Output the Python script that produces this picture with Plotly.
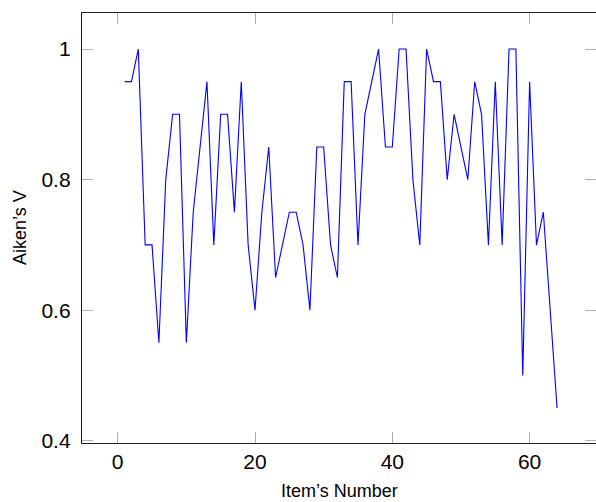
import plotly.graph_objects as go

items = list(range(1, 65))
aiken_v = [0.95, 0.95, 1.0, 0.7, 0.7, 0.55, 0.8, 0.9, 0.9, 0.55,
           0.75, 0.85, 0.95, 0.7, 0.9, 0.9, 0.75, 0.95, 0.7, 0.6,
           0.75, 0.85, 0.65, 0.7, 0.75, 0.75, 0.7, 0.6, 0.85, 0.85,
           0.7, 0.65, 0.95, 0.95, 0.7, 0.9, 0.95, 1.0, 0.85, 0.85,
           1.0, 1.0, 0.8, 0.7, 1.0, 0.95, 0.95, 0.8, 0.9, 0.85,
           0.8, 0.95, 0.9, 0.7, 0.95, 0.7, 1.0, 1.0, 0.5, 0.95,
           0.7, 0.75, 0.6, 0.45]
x_ticks = [0, 20, 40, 60]
y_ticks = [0.4, 0.6, 0.8, 1.0]
y_tick_text = ["0.4", "0.6", "0.8", "1"]

FONT = "Liberation Sans, Arial, Helvetica, sans-serif"
Y_RANGE = [0.3965, 1.0552]

fig = go.Figure()
fig.add_trace(go.Scatter(x=items, y=aiken_v, mode="lines",
                         line=dict(color="#0000ff", width=1.1),
                         showlegend=False, hoverinfo="skip"))
# helper (empty) trace so the right-side mirror tick axis is drawn
fig.add_trace(go.Scatter(x=[None], y=[None], yaxis="y2", mode="lines",
                         showlegend=False, hoverinfo="skip"))

fig.update_layout(
    width=596, height=502,
    margin=dict(l=82, r=0, t=13, b=59),
    paper_bgcolor="white", plot_bgcolor="white",
    font=dict(family=FONT, color="black"),
    xaxis=dict(range=[-5.2, 69.67], tickvals=x_ticks, ticks="inside",
               ticklen=11, tickwidth=1.3, tickcolor="#b0b0b0",
               showgrid=False, zeroline=False, showline=True,
               linecolor="#222222", linewidth=1.3, mirror="ticks",
               tickfont=dict(size=21, family=FONT, color="black")),
    yaxis=dict(range=Y_RANGE, tickvals=y_ticks, ticktext=y_tick_text,
               ticks="inside", ticklen=11, tickwidth=1.3, tickcolor="#b0b0b0",
               showgrid=False, zeroline=False, showline=True,
               linecolor="#111111", linewidth=1.3, mirror=False,
               ticklabelstandoff=6,
               tickfont=dict(size=21, family=FONT, color="black")),
    yaxis2=dict(range=Y_RANGE, tickvals=y_ticks, overlaying="y", side="right",
                ticks="inside", ticklen=11, tickwidth=1.3, tickcolor="#b0b0b0",
                showgrid=False, zeroline=False, showline=False,
                showticklabels=False),
    annotations=[
        dict(text="Item’s Number", xref="paper", yref="paper", x=0.5, y=-0.1116,
             xanchor="center", yanchor="middle", showarrow=False,
             font=dict(size=18, family=FONT, color="black")),
        dict(text="Aiken’s V", xref="paper", yref="paper", x=-0.1206, y=0.5,
             xanchor="center", yanchor="middle", textangle=-90, showarrow=False,
             font=dict(size=18, family=FONT, color="black")),
    ],
)

fig.write_html("out.html", config={"displayModeBar": False},
               post_script="document.body.style.margin='0';document.body.style.overflow='hidden';")
